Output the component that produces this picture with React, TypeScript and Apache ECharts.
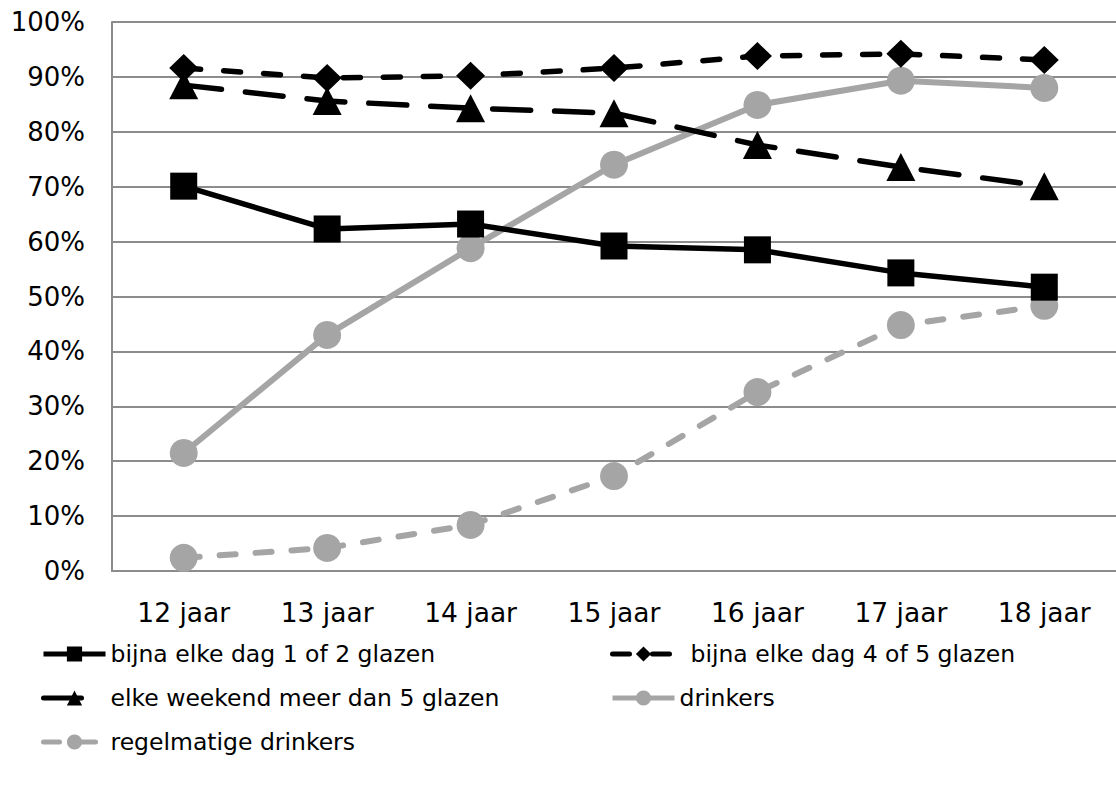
import React, { useEffect, useRef } from "react";
import * as echarts from "echarts";

const categories = ["12 jaar", "13 jaar", "14 jaar", "15 jaar", "16 jaar", "17 jaar", "18 jaar"];
const yTicks = [0, 10, 20, 30, 40, 50, 60, 70, 80, 90, 100];

const dag12 = [70.1, 62.3, 63.2, 59.2, 58.5, 54.3, 51.7];
const dag45 = [91.6, 89.8, 90.2, 91.6, 93.8, 94.2, 93.1];
const weekend = [88.5, 85.6, 84.3, 83.4, 77.6, 73.6, 70.1];
const drinkers = [21.5, 43.0, 58.8, 74.0, 84.9, 89.3, 88.0];
const regelmatig = [2.4, 4.2, 8.4, 17.3, 32.6, 44.8, 48.3];

const names = [
  "bijna elke dag 1 of 2 glazen",
  "bijna elke dag 4 of 5 glazen",
  "elke weekend meer dan 5 glazen",
  "drinkers",
  "regelmatige drinkers",
];

const FONT = "'DejaVu Sans', Verdana, sans-serif";
const BLACK = "#000000";
const GRAY = "#a5a5a5";

export default function App() {
  const ref = useRef<HTMLDivElement>(null);
  useEffect(() => {
    if (!ref.current) return;
    const chart = echarts.init(ref.current, null, { renderer: "svg" });
    const legendBase = (name: string, left: number, top: number, extraPad = 0) => ({
      data: [name],
      left,
      top,
      padding: 0,
      itemWidth: 62,
      itemHeight: 19,
      selectedMode: false,
      lineStyle: { width: 5 },
      textStyle: { fontFamily: FONT, fontSize: 23.5, color: "#000", padding: [0, 0, 0, extraPad] },
    });
    chart.setOption({
      animation: false,
      backgroundColor: "#ffffff",
      grid: { left: 112, top: 22, width: 1010, height: 549, containLabel: false },
      xAxis: {
        type: "category",
        data: categories,
        boundaryGap: true,
        axisLine: { lineStyle: { color: "#8c8c8c", width: 2 } },
        axisTick: { show: false },
        axisLabel: { fontFamily: FONT, fontSize: 26.5, color: "#000", margin: 28 },
      },
      yAxis: {
        type: "value",
        min: yTicks[0],
        max: yTicks[yTicks.length - 1],
        interval: 10,
        axisLine: { show: true, lineStyle: { color: "#8c8c8c", width: 2 } },
        axisTick: { show: false },
        splitLine: { lineStyle: { color: "#8c8c8c", width: 2 } },
        axisLabel: { fontFamily: FONT, fontSize: 26, color: "#000", margin: 27, formatter: "{value}%" },
      },
      legend: [
        legendBase(names[0], 41, 642),
        legendBase(names[1], 610, 642, 11),
        legendBase(names[2], 41, 686),
        legendBase(names[3], 610, 686),
        legendBase(names[4], 41, 730),
      ],
      series: [
        {
          name: names[0],
          type: "line",
          data: dag12,
          symbol: "rect",
          symbolSize: 27,
          itemStyle: { color: BLACK },
          lineStyle: { color: BLACK, width: 5.5 },
          z: 3,
        },
        {
          name: names[1],
          type: "line",
          data: dag45,
          symbol: "diamond",
          symbolSize: [29, 28],
          itemStyle: { color: BLACK },
          lineStyle: { color: BLACK, width: 5.5, type: [17, 23], cap: "round" },
          z: 4,
        },
        {
          name: names[2],
          type: "line",
          data: weekend,
          symbol: "triangle",
          symbolSize: [29, 28],
          itemStyle: { color: BLACK },
          lineStyle: { color: BLACK, width: 5.5, type: [38, 24], cap: "round" },
          z: 3,
        },
        {
          name: names[3],
          type: "line",
          data: drinkers,
          symbol: "circle",
          symbolSize: 28,
          itemStyle: { color: GRAY },
          lineStyle: { color: GRAY, width: 6 },
          z: 2,
        },
        {
          name: names[4],
          type: "line",
          data: regelmatig,
          symbol: "circle",
          symbolSize: 28,
          itemStyle: { color: GRAY },
          lineStyle: { color: GRAY, width: 6, type: [16, 20], cap: "round" },
          z: 2,
        },
      ],
    });
    return () => chart.dispose();
  }, []);
  return (
    <div
      ref={ref}
      style={{ position: "fixed", left: 0, top: 0, width: 1116, height: 796, background: "#fff" }}
    />
  );
}
